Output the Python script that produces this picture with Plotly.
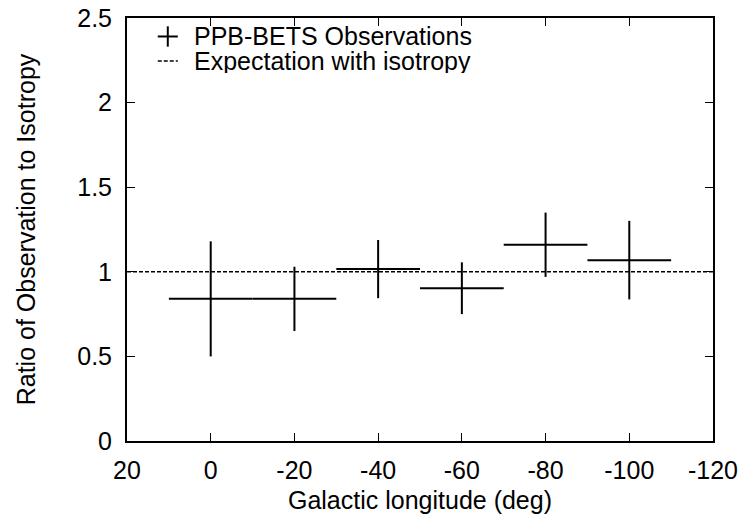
import plotly.graph_objects as go

# Galactic longitude bins (deg) and observed / isotropic ratio
longitude = [0, -20, -40, -60, -80, -100]
bin_half_width = [10, 10, 10, 10, 10, 10]
ratio = [0.84, 0.84, 1.016, 0.903, 1.16, 1.069]
ratio_err = [0.34, 0.19, 0.172, 0.153, 0.19, 0.232]

# isotropic expectation line
iso_x = [20, -120]
iso_y = [1, 1]

x_ticks = [20, 0, -20, -40, -60, -80, -100, -120]
y_ticks = [0, 0.5, 1, 1.5, 2, 2.5]

legend_labels = ["PPB-BETS Observations", "Expectation with isotropy"]

FONT = "Liberation Sans, Arial, Helvetica, sans-serif"
FS = 25

fig = go.Figure()

fig.add_trace(go.Scatter(
    x=longitude, y=ratio,
    mode="markers",
    name=legend_labels[0],
    marker=dict(size=1, color="black"),
    error_x=dict(type="data", array=bin_half_width, color="black",
                 thickness=2, width=0),
    error_y=dict(type="data", array=ratio_err, color="black",
                 thickness=2, width=0),
    showlegend=False,
))

fig.add_trace(go.Scatter(
    x=iso_x, y=iso_y,
    mode="lines",
    name=legend_labels[1],
    line=dict(color="black", width=1.6, dash="4px,2px"),
    showlegend=False,
))

axis_common = dict(
    showgrid=False, zeroline=False, automargin=False,
    showline=True, linecolor="black", linewidth=2, mirror="ticks",
    ticks="inside", ticklen=8, tickwidth=1.2, tickcolor="black",
    ticklabeloverflow="allow",
    tickfont=dict(family=FONT, size=FS, color="black"),
)

# key drawn in the upper-left corner of the frame (paper coordinates)
key_sym_x0, key_sym_x1 = 0.0525, 0.0867
key_text_x = 0.1122
key_rows_y = [0.9563, 0.8983]
shapes = [
    # "+" symbol for observations
    dict(type="line", xref="paper", yref="paper",
         x0=key_sym_x0, x1=key_sym_x1, y0=key_rows_y[0], y1=key_rows_y[0],
         line=dict(color="black", width=2)),
    dict(type="line", xref="paper", yref="paper",
         x0=(key_sym_x0 + key_sym_x1) / 2, x1=(key_sym_x0 + key_sym_x1) / 2,
         y0=key_rows_y[0] - 0.024, y1=key_rows_y[0] + 0.024,
         line=dict(color="black", width=2)),
    # dashed sample for the isotropy line
    dict(type="line", xref="paper", yref="paper",
         x0=key_sym_x0, x1=key_sym_x1, y0=key_rows_y[1], y1=key_rows_y[1],
         line=dict(color="black", width=1.6, dash="4px,2px")),
]
annotations = [
    dict(text=lbl, xref="paper", yref="paper", x=key_text_x, y=yy,
         xanchor="left", yanchor="middle", showarrow=False, height=24,
         borderpad=0, font=dict(family=FONT, size=FS, color="black"))
    for lbl, yy in zip(legend_labels, key_rows_y)
]

fig.update_layout(
    width=740, height=525,
    margin=dict(l=127, r=27, t=18, b=84),
    paper_bgcolor="white", plot_bgcolor="white",
    font=dict(family=FONT, size=FS, color="black"),
    xaxis=dict(range=[20, -120], tickvals=x_ticks,
               ticktext=[str(v) for v in x_ticks],
               ticklabelstandoff=6,
               title=dict(text="Galactic longitude (deg)", standoff=8,
                          font=dict(family=FONT, size=FS)),
               **axis_common),
    yaxis=dict(range=[0, 2.5], tickvals=y_ticks,
               ticktext=["0", "0.5", "1", "1.5", "2", "2.5"],
               ticklabelstandoff=8,
               title=dict(text="Ratio of Observation to Isotropy", standoff=34,
                          font=dict(family=FONT, size=FS)),
               **axis_common),
    showlegend=False,
    shapes=shapes,
    annotations=annotations,
)

fig.write_html("out.html")
